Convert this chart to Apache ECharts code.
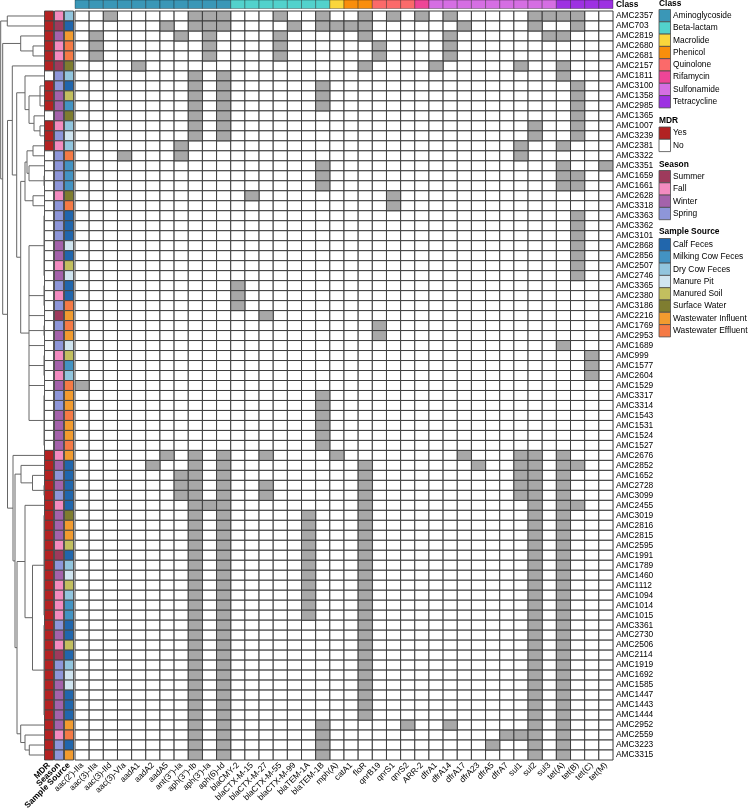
<!DOCTYPE html>
<html><head><meta charset="utf-8">
<script src="https://cdn.jsdelivr.net/npm/echarts@6/dist/echarts.min.js"></script>
<style>html,body{margin:0;padding:0;background:#fff}#c{width:749px;height:810px}</style>
</head><body><div id="c"></div>
<script>
// ---------- DATA ----------
const genes = ["aac(2')-IIa","aac(3)-IIa","aac(3)-IId","aac(3)-VIa","aadA1","aadA2","aadA5","ant(3'')-Ia","aph(3'')-Ib","aph(3')-Ia","aph(6)-Id","blaCMY-2","blaCTX-M-15","blaCTX-M-27","blaCTX-M-55","blaCTX-M-99","blaTEM-1A","blaTEM-1B","mph(A)","catA1","floR","qnrB19","qnrS1","qnrS2","ARR-2","dfrA1","dfrA14","dfrA17","dfrA23","dfrA5","dfrA7","sul1","sul2","sul3","tet(A)","tet(B)","tet(C)","tet(M)"];
const classes = ["Aminoglycoside","Beta-lactam","Macrolide","Phenicol","Quinolone","Rifamycin","Sulfonamide","Tetracycline"];
const classColors = ["#3A97B7","#52D2CC","#FAD63C","#F98E0C","#FB6A6A","#EE4597","#D56EE3","#9D31E2"];
const geneClass = [0,0,0,0,0,0,0,0,0,0,0, 1,1,1,1,1,1,1, 2, 3,3, 4,4,4, 5, 6,6,6,6,6,6,6,6,6, 7,7,7,7];

const isolates = ["AMC2357","AMC703","AMC2819","AMC2680","AMC2681","AMC2157","AMC1811","AMC3100","AMC1358","AMC2985",
"AMC1365","AMC1007","AMC3239","AMC2381","AMC3322","AMC3351","AMC1659","AMC1661","AMC2628","AMC3318",
"AMC3363","AMC3362","AMC3101","AMC2868","AMC2856","AMC2507","AMC2746","AMC3365","AMC2380","AMC3186",
"AMC2216","AMC1769","AMC2953","AMC1689","AMC999","AMC1577","AMC2604","AMC1529","AMC3317","AMC3314",
"AMC1543","AMC1531","AMC1524","AMC1527","AMC2676","AMC2852","AMC1652","AMC2728","AMC3099","AMC2455",
"AMC3019","AMC2816","AMC2815","AMC2595","AMC1991","AMC1789","AMC1460","AMC1112","AMC1094","AMC1014",
"AMC1015","AMC3361","AMC2730","AMC2506","AMC2114","AMC1919","AMC1692","AMC1585","AMC1447","AMC1443",
"AMC1444","AMC2952","AMC2559","AMC3223","AMC3315"];

// gene indices present in each isolate (row order as drawn)
const genesPresent = [
[2,8,9,10,14,17,20,22,24,26,32,33,34,35],
[6,8,9,10,15,17,18,19,20,27,32,35],
[1,7,9,14,20,26,33,34],
[1,9,14,21,26],
[1,9,14,21,26],
[4,20,25,31,34],
[8,10,34],
[8,10,17,35],
[8,10,17,35],
[8,10,17,35],
[8,10,35],
[8,10,32,35],
[8,10,32,35],
[7,31,34],
[3,7,31],
[17,34,37],
[17,34,35],
[17,34,35],
[12,22],
[22],
[35],[35],[35],[35],[35],[35],[35],
[11],[11],[11],
[13],
[21],[21],
[34],
[36],[36],[36],
[0],
[17],[17],[17],[17],[17],[17],
[6,8,10,13,18,27,31,32,34],
[5,8,10,20,28,31,32,34,35],
[7,8,10,20,31,32,34],
[7,8,10,13,20,31,32,34],
[7,8,10,13,20,31,32,34],
[8,9,10,20,32,34,35],
[8,10,16,20,32,34],[8,10,16,20,32,34],[8,10,16,20,32,34],[8,10,16,20,32,34],[8,10,16,20,32,34],
[8,10,16,20,32,34],[8,10,16,20,32,34],[8,10,16,20,32,34],[8,10,16,20,32,34],[8,10,16,20,32,34],
[8,10,16,20,32,34],
[8,10,20,32,34],[8,10,20,32,34],[8,10,20,32,34],[8,10,20,32,34],[8,10,20,32,34],
[8,10,20,32,34],[8,10,20,32,34],[8,10,20,32,34],[8,10,20,32,34],[8,10,20,32,34],
[8,10,17,23,26,32,34],
[8,10,17,30,31,32,34],
[8,10,17,29,32,34],
[8,10,17,32,34]
];

const annotationNames = ["MDR","Season","Sample Source"];
const mdrLevels = ["Yes","No"];
const mdrColors = ["#B22222","#FFFFFF"];
const isolateMDR = [0,0,0,0,0,0,1,0,0,0, 1,0,0,0,1,1,1,1,1,1, 1,1,1,1,1,1,1,1,1,1,
 1,1,1,1,1,1,1,1,1,1, 1,1,1,1,0,0,0,0,0,0, 0,0,0,0,0,0,0,0,0,0, 0,0,0,0,0,0,0,0,0,0, 0,0,0,0,0];
const seasons = ["Summer","Fall","Winter","Spring"];
const seasonColors = ["#9E3A5C","#F38BC0","#A462AB","#8E96D9"];
const isolateSeason = [1,0,2,1,1,0,3,3,2,2, 2,1,3,1,3,3,3,3,1,3, 3,3,3,2,2,1,2,3,1,3,
 0,3,2,3,1,2,1,2,3,3, 2,2,2,2,1,2,3,2,3,1, 2,2,2,1,0,3,2,1,1,1, 1,3,2,1,0,3,3,2,2,2, 2,2,1,3,3];
const sources = ["Calf Feces","Milking Cow Feces","Dry Cow Feces","Manure Pit","Manured Soil","Surface Water","Wastewater Influent","Wastewater Effluent"];
const sourceColors = ["#2166AC","#4393C3","#92C5DE","#D1E5F0","#C3BF5F","#7F7D30","#F29B2F","#F57A45"];
const isolateSource = [2,0,6,7,7,5,2,0,4,1, 5,2,3,2,7,1,1,1,5,7, 0,0,0,3,0,4,3,0,0,7,
 6,7,6,3,4,1,2,7,6,6, 7,6,6,7,6,0,0,0,0,0, 5,6,6,4,0,2,3,4,2,1, 1,0,0,4,0,2,3,3,0,0, 0,6,7,0,6];

// row dendrogram: [height, child, child, ...]; leaves are row indices
const rowTree =
[43.3,
  [36.7, 0, 1],
  [41.3,
    [23.3, 2, [11, 3, 4]],
    [36.5,
      [31.7, 5,
        [27.3,
          [19, 6, [15, [4, 7, 8, 9], [10, 10, [4, 11, 12]]]],
          [23.3,
            [19, [17, [11, 13, 14], [15, 15, [0, 16, 17]]], [11, 18, 19]],
            [15, [0,20,21,22,23,24,25,26], [0,27,28,29], 30, [0,31,32], 33, [0,34,35,36], 37, [0,38,39,40,41,42,43]]
          ]
        ]
      ],
      [31, 44,
        [29,
          [23, 45, [11.5, 46, [0, 47, 48]]],
          [27,
            [19, 49, [11.5, [0,50,51,52,53,54,55,56,57,58,59,60], [0,61,62,63,64,65,66,67,68,69,70]]],
            [23.3, 71, [19, 72, [14.7, 73, 74]]]
          ]
        ]
      ]
    ]
  ]
];

// ---------- BUILD ----------
const FONT = '"Liberation Sans", Arial, Helvetica, sans-serif';
const FS = 8.4;
const GRAY = '#a8a8a8';
const BORDER = '#3d3d3d';

const cells = [];
for (let r = 0; r < isolates.length; r++) {
  const set = new Set(genesPresent[r]);
  for (let g = 0; g < genes.length; g++) cells.push([g, r, set.has(g) ? 1 : 0]);
}
cells.sort((a, b) => a[2] - b[2]);

const annoCells = [];
for (let r = 0; r < isolates.length; r++) for (let c = 0; c < 3; c++) annoCells.push([c, r]);
function annoColor(c, r) {
  if (c === 0) return mdrColors[isolateMDR[r]];
  if (c === 1) return seasonColors[isolateSeason[r]];
  return sourceColors[isolateSource[r]];
}
const classCells = genes.map((g, i) => [i, 0, geneClass[i]]);

function layoutTree(node) {
  if (typeof node === 'number') return { h: 0, y: node, leaf: true };
  const kids = node.slice(1).map(layoutTree);
  return { h: node[0], kids, y: (kids[0].y + kids[kids.length - 1].y) / 2 };
}
const treeLayout = layoutTree(rowTree);

function dendroSegments(node, api, out) {
  if (node.leaf) return;
  const first = node.kids[0], last = node.kids[node.kids.length - 1];
  const a = api.coord([node.h, first.y]), b = api.coord([node.h, last.y]);
  out.push([a, b]);
  node.kids.forEach(k => {
    out.push([api.coord([node.h, k.y]), api.coord([k.h, k.y])]);
    dendroSegments(k, api, out);
  });
}

// legend graphic
const legendX = 659, boxW = 11.5, boxH = 12.3, textX = 673;
const legendGroups = [
  { title: 'Class', titleY: 4, top: 9.5, items: classes, colors: classColors },
  { title: 'MDR', titleY: 121, top: 127, items: mdrLevels, colors: mdrColors },
  { title: 'Season', titleY: 164.5, top: 170.5, items: seasons, colors: seasonColors },
  { title: 'Sample Source', titleY: 232, top: 238.5, items: sources, colors: sourceColors }
];
const graphic = [];
legendGroups.forEach(gp => {
  graphic.push({ type: 'text', x: legendX, y: gp.titleY, silent: true,
    style: { text: gp.title, fill: '#000', font: 'bold ' + FS + 'px ' + FONT, verticalAlign: 'middle', textVerticalAlign: 'middle' } });
  gp.items.forEach((it, i) => {
    graphic.push({ type: 'rect', silent: true,
      shape: { x: legendX, y: gp.top + i * boxH, width: boxW, height: boxH },
      style: { fill: gp.colors[i], stroke: '#4a4a4a', lineWidth: 0.8 } });
    graphic.push({ type: 'text', x: textX, y: gp.top + i * boxH + boxH / 2, silent: true,
      style: { text: it, fill: '#000', font: FS + 'px ' + FONT, verticalAlign: 'middle', textVerticalAlign: 'middle' } });
  });
});

const noAxisBits = { axisLine: { show: false }, axisTick: { show: false }, splitLine: { show: false } };

const option = {
  animation: false,
  backgroundColor: '#fff',
  textStyle: { fontFamily: FONT },
  grid: [
    { left: 75, top: 11, width: 538, height: 749, outerBoundsMode: 'none', containLabel: false },
    { left: 44, top: 11, width: 30, height: 749, outerBoundsMode: 'none', containLabel: false },
    { left: 75, top: 0, width: 538, height: 8.5, outerBoundsMode: 'none', containLabel: false },
    { left: 0, top: 11, width: 44, height: 749, outerBoundsMode: 'none', containLabel: false }
  ],
  xAxis: [
    Object.assign({ gridIndex: 0, type: 'category', data: genes,
      axisLabel: { interval: 0, rotate: 45, fontSize: FS, color: '#000', margin: 4, fontFamily: FONT } }, noAxisBits),
    Object.assign({ gridIndex: 1, type: 'category', data: annotationNames,
      axisLabel: { interval: 0, rotate: 45, fontSize: FS, fontWeight: 'bold', color: '#000', margin: 4, fontFamily: FONT } }, noAxisBits),
    { gridIndex: 2, type: 'category', data: genes, show: false },
    { gridIndex: 3, type: 'value', min: 0, max: 44, inverse: true, show: false }
  ],
  yAxis: [
    Object.assign({ gridIndex: 0, type: 'category', data: isolates, inverse: true, position: 'right',
      axisLabel: { interval: 0, fontSize: FS, color: '#000', margin: 3, fontFamily: FONT } }, noAxisBits),
    { gridIndex: 1, type: 'category', data: isolates, inverse: true, show: false },
    Object.assign({ gridIndex: 2, type: 'category', data: ['Class'], position: 'right',
      axisLabel: { fontSize: FS, fontWeight: 'bold', color: '#000', margin: 3, fontFamily: FONT } }, noAxisBits),
    { gridIndex: 3, type: 'value', min: -0.5, max: 74.5, inverse: true, show: false }
  ],
  series: [
    { type: 'custom', xAxisIndex: 0, yAxisIndex: 0, data: cells, silent: true,
      renderItem: (params, api) => {
        const p = api.coord([api.value(0), api.value(1)]);
        const s = api.size([1, 1]);
        return { type: 'rect', shape: { x: p[0] - s[0] / 2, y: p[1] - s[1] / 2, width: s[0], height: s[1] },
          style: { fill: api.value(2) ? GRAY : '#fff', stroke: BORDER, lineWidth: 1 } };
      } },
    { type: 'custom', xAxisIndex: 1, yAxisIndex: 1, data: annoCells, silent: true,
      renderItem: (params, api) => {
        const c = api.value(0), r = api.value(1);
        const p = api.coord([c, r]);
        const s = api.size([1, 1]);
        return { type: 'rect', shape: { x: p[0] - 4.5, y: p[1] - s[1] / 2, width: 9, height: s[1] },
          style: { fill: annoColor(c, r), stroke: '#444', lineWidth: 0.9 } };
      } },
    { type: 'custom', xAxisIndex: 2, yAxisIndex: 2, data: classCells, silent: true,
      renderItem: (params, api) => {
        const p = api.coord([api.value(0), 0]);
        const s = api.size([1, 1]);
        return { type: 'rect', shape: { x: p[0] - s[0] / 2, y: p[1] - s[1] / 2, width: s[0], height: s[1] },
          style: { fill: classColors[api.value(2)], stroke: 'rgba(0,0,0,0.4)', lineWidth: 0.8 } };
      } },
    { type: 'custom', xAxisIndex: 3, yAxisIndex: 3, data: [[0, 0]], silent: true,
      renderItem: (params, api) => {
        const segs = [];
        dendroSegments(treeLayout, api, segs);
        return { type: 'group', children: segs.map(s => ({ type: 'line',
          shape: { x1: s[0][0], y1: s[0][1], x2: s[1][0], y2: s[1][1] },
          style: { stroke: '#666666', lineWidth: 1 } })) };
      } }
  ],
  graphic: graphic
};

const chart = echarts.init(document.getElementById('c'), null, { renderer: 'canvas' });
chart.setOption(option);
</script>
</body></html>
